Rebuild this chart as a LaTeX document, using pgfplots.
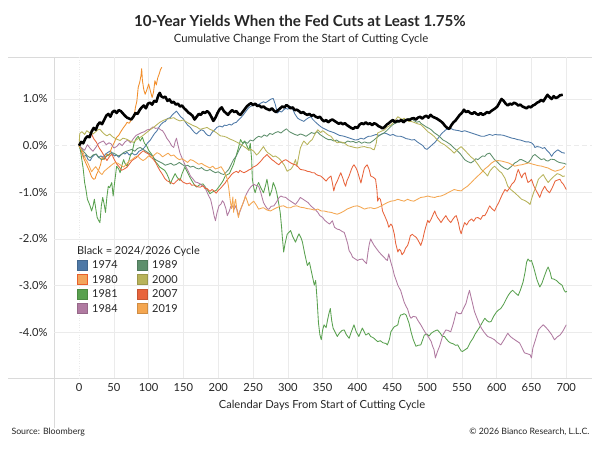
\documentclass[border=0pt]{standalone}
\usepackage{fontspec}
\setmainfont{Lato}
\usepackage{pgfplots}
\usepackage{pgfplotstable}
\pgfplotsset{compat=1.18}
\definecolor{c1974}{HTML}{4E79A7}
\definecolor{c1980}{HTML}{F28E2B}
\definecolor{c1980f}{HTML}{F2A55C}
\definecolor{c1980b}{HTML}{E8602C}
\definecolor{c1981}{HTML}{59A14F}
\definecolor{c1984}{HTML}{B07AA1}
\definecolor{c1989}{HTML}{5E8F6C}
\definecolor{c2000}{HTML}{B8B35A}
\definecolor{c2007}{HTML}{E8643C}
\definecolor{c2019}{HTML}{F4A650}
\definecolor{txt}{HTML}{262626}
\definecolor{frame}{HTML}{DADADA}

\pgfplotstableread{
d v
0 0.00
3 0.08
6 0.05
9 0.15
12 0.20
15 0.18
18 0.30
21 0.38
24 0.34
27 0.45
30 0.50
33 0.46
36 0.55
39 0.64
42 0.68
45 0.62
48 0.72
51 0.75
54 0.70
57 0.76
60 0.74
63 0.69
66 0.64
69 0.60
72 0.58
75 0.56
78 0.62
81 0.70
84 0.68
87 0.76
90 0.82
93 0.86
96 0.80
99 0.90
102 0.92
105 0.88
108 0.96
111 0.94
114 1.08
116 1.13
118 1.06
121 1.03
124 1.05
127 0.96
130 0.99
133 0.92
136 0.94
139 0.88
142 0.90
145 0.84
148 0.86
151 0.80
154 0.76
157 0.71
160 0.68
163 0.64
166 0.56
169 0.62
172 0.68
175 0.66
178 0.72
181 0.70
184 0.74
187 0.70
190 0.62
193 0.53
196 0.60
199 0.70
202 0.78
205 0.82
208 0.74
211 0.70
214 0.66
217 0.72
220 0.76
223 0.72
226 0.74
229 0.68
232 0.66
235 0.72
238 0.78
241 0.84
244 0.88
247 0.91
250 0.87
253 0.90
256 0.85
259 0.86
262 0.82
265 0.84
268 0.80
271 0.78
274 0.76
277 0.80
280 0.75
283 0.72
286 0.76
289 0.80
292 0.84
295 0.82
298 0.87
301 0.84
304 0.80
307 0.82
310 0.76
313 0.77
316 0.74
319 0.70
322 0.72
325 0.68
328 0.66
331 0.68
334 0.64
337 0.66
340 0.62
343 0.60
346 0.62
349 0.56
352 0.52
355 0.55
358 0.50
361 0.54
364 0.56
367 0.53
370 0.50
373 0.47
376 0.49
379 0.46
382 0.48
385 0.44
388 0.41
391 0.38
394 0.36
397 0.40
400 0.38
403 0.45
406 0.48
409 0.46
412 0.50
415 0.46
418 0.48
421 0.44
424 0.48
427 0.46
430 0.42
433 0.40
436 0.37
439 0.40
442 0.45
445 0.48
448 0.52
451 0.55
454 0.50
457 0.53
460 0.52
463 0.55
466 0.50
469 0.54
472 0.56
475 0.55
478 0.58
481 0.59
484 0.56
487 0.60
490 0.62
493 0.58
496 0.62
499 0.64
502 0.60
505 0.66
508 0.62
511 0.60
514 0.58
517 0.55
520 0.52
523 0.48
526 0.42
529 0.38
532 0.36
535 0.44
538 0.50
541 0.54
544 0.60
547 0.66
550 0.70
553 0.77
556 0.72
559 0.74
562 0.70
565 0.68
568 0.72
571 0.68
574 0.66
577 0.70
580 0.66
583 0.68
586 0.72
589 0.70
592 0.74
595 0.77
598 0.80
601 0.84
604 0.92
607 1.00
610 0.96
613 0.90
616 0.86
619 0.90
622 0.88
625 0.92
628 0.90
631 0.86
634 0.88
637 0.84
640 0.82
643 0.80
646 0.84
649 0.82
652 0.86
655 0.88
658 0.92
661 0.94
664 0.98
667 0.95
670 1.02
673 1.09
676 1.04
679 1.00
682 1.06
685 1.02
688 1.04
691 1.08
695 1.09
}\tblack

\pgfplotstableread{
d v
0 0.00
4 -0.15
7 -0.25
10 -0.20
13 -0.30
16 -0.32
19 -0.24
22 -0.20
25 -0.18
28 -0.26
31 -0.22
35 -0.25
38 -0.18
42 -0.14
45 -0.11
48 -0.18
51 -0.22
54 -0.20
57 -0.25
60 -0.20
63 -0.16
66 -0.18
69 -0.14
72 -0.20
76 -0.16
80 -0.20
83 -0.18
86 -0.12
89 -0.10
92 -0.07
95 -0.02
98 0.05
102 0.11
105 0.18
108 0.25
112 0.32
115 0.40
118 0.46
121 0.50
124 0.52
127 0.58
131 0.60
134 0.66
137 0.70
140 0.74
143 0.68
146 0.62
150 0.57
153 0.50
156 0.44
160 0.39
163 0.33
166 0.28
169 0.25
172 0.30
176 0.34
179 0.32
182 0.26
185 0.22
188 0.21
191 0.28
195 0.34
198 0.39
202 0.42
206 0.40
209 0.44
212 0.43
216 0.46
219 0.44
222 0.48
226 0.50
229 0.55
232 0.59
236 0.66
240 0.74
243 0.80
246 0.84
250 0.86
254 0.90
258 0.88
261 0.91
265 0.94
268 0.92
272 0.96
276 1.00
279 1.01
282 0.88
285 0.70
288 0.74
291 0.72
294 0.77
297 0.80
300 0.78
304 0.84
307 0.78
310 0.68
314 0.59
317 0.56
320 0.54
323 0.52
326 0.56
330 0.60
333 0.62
336 0.56
340 0.50
343 0.46
347 0.41
350 0.38
354 0.35
358 0.32
362 0.30
366 0.28
370 0.25
374 0.22
378 0.21
381 0.20
385 0.18
389 0.16
393 0.14
397 0.12
401 0.13
405 0.16
409 0.14
413 0.18
416 0.20
419 0.20
423 0.22
427 0.24
431 0.22
435 0.25
439 0.27
443 0.25
447 0.22
451 0.24
455 0.21
458 0.20
462 0.20
466 0.18
470 0.15
474 0.14
478 0.12
482 0.13
486 0.08
490 0.04
494 0.00
497 -0.06
500 -0.08
503 -0.04
506 0.00
509 0.04
512 0.08
515 0.14
518 0.20
521 0.26
524 0.30
527 0.34
531 0.36
534 0.37
538 0.34
542 0.33
546 0.32
550 0.30
554 0.32
558 0.30
562 0.28
566 0.26
570 0.24
574 0.22
578 0.20
582 0.20
586 0.22
590 0.24
594 0.22
598 0.24
602 0.23
606 0.23
610 0.22
614 0.20
618 0.18
622 0.16
626 0.15
630 0.13
634 0.12
638 0.10
642 0.08
646 0.08
650 0.06
653 0.02
655 -0.04
658 -0.02
662 -0.03
666 -0.06
669 -0.04
672 -0.10
676 -0.16
679 -0.23
682 -0.16
685 -0.12
688 -0.09
691 -0.12
694 -0.15
698 -0.16
}\tsevenfour

\pgfplotstableread{
d v
0 0.00
3 -0.10
6 -0.25
9 -0.35
12 -0.45
15 -0.55
18 -0.67
21 -0.72
23 -0.71
25 -0.62
28 -0.53
31 -0.40
33 -0.25
36 -0.30
40 -0.18
43 -0.22
47 -0.04
50 0.05
54 0.18
57 0.22
60 0.30
64 0.39
67 0.45
69 0.50
72 0.48
76 0.57
79 0.62
81 0.82
83 0.95
85 1.25
87 1.35
89 1.50
90 1.65
91 1.40
93 1.20
95 1.10
97 1.18
100 1.32
102 1.20
105 1.03
107 1.15
109 1.39
111 1.30
113 1.45
115 1.53
117 1.63
119 1.68
}\teighty

\pgfplotstableread{
d v
0 0.00
2 -0.10
4 -0.30
6 -0.50
8 -0.79
10 -0.95
12 -1.15
14 -1.22
16 -1.30
18 -1.40
20 -1.30
22 -1.15
24 -1.35
26 -1.54
28 -1.60
30 -1.65
32 -1.29
34 -1.11
36 -1.25
38 -1.43
40 -1.10
42 -0.87
44 -0.90
47 -0.79
49 -1.08
51 -0.80
54 -0.44
57 -0.50
59 -0.58
62 -0.40
64 -0.30
66 -0.38
69 -0.44
72 -0.30
74 -0.20
76 -0.16
79 0.05
82 0.15
85 0.20
88 0.10
91 0.18
94 0.05
97 0.00
100 -0.10
104 -0.18
107 -0.25
110 -0.35
113 -0.40
116 -0.46
120 -0.50
123 -0.53
126 -0.60
129 -0.70
131 -0.82
134 -0.72
138 -0.60
141 -0.68
145 -0.75
148 -0.60
152 -0.46
155 -0.55
159 -0.67
162 -0.75
166 -0.85
169 -0.89
173 -0.84
178 -0.82
182 -0.90
186 -0.98
188 -1.03
192 -0.99
197 -0.96
201 -0.88
204 -0.82
207 -0.75
210 -0.65
213 -0.62
216 -0.60
219 -0.50
222 -0.40
226 -0.20
229 -0.05
232 0.13
235 0.05
238 0.10
241 0.00
244 -0.10
246 0.05
248 -0.30
249 -0.72
251 -0.90
253 -1.01
256 -0.85
258 -0.79
261 -0.90
265 -1.01
268 -0.85
270 -0.72
272 -0.90
274 -1.08
277 -0.95
279 -0.79
282 -0.90
284 -1.01
287 -1.25
289 -1.43
291 -1.75
292 -1.95
294 -2.28
296 -2.10
299 -1.90
302 -1.85
304 -1.82
307 -1.95
311 -2.07
314 -1.95
316 -1.89
319 -1.98
321 -2.07
324 -2.30
328 -2.57
331 -2.50
333 -2.64
336 -2.85
338 -2.99
340 -2.89
342 -3.30
344 -3.80
346 -4.05
348 -4.16
350 -3.95
352 -3.84
355 -3.90
357 -3.74
359 -3.60
361 -3.49
363 -3.75
365 -3.91
368 -4.00
371 -4.09
374 -4.02
378 -3.96
381 -3.95
384 -4.05
388 -4.13
391 -4.00
395 -3.84
398 -3.98
402 -4.09
405 -3.98
407 -3.91
410 -4.00
412 -4.06
416 -4.02
419 -4.09
423 -4.12
426 -4.16
429 -4.20
433 -4.18
436 -4.22
438 -4.23
441 -4.24
443 -4.27
446 -4.15
448 -3.99
451 -3.92
453 -3.88
456 -3.86
458 -3.84
460 -3.70
462 -3.63
465 -3.62
467 -3.60
470 -3.63
474 -3.80
477 -3.99
480 -4.15
484 -4.30
487 -4.28
491 -4.27
494 -4.15
496 -4.06
500 -4.04
503 -4.08
506 -4.02
510 -3.98
513 -3.96
515 -3.95
519 -4.02
522 -4.09
525 -4.09
528 -4.15
531 -4.20
534 -4.23
538 -4.25
541 -4.28
544 -4.27
547 -4.35
549 -4.40
551 -4.41
554 -4.38
558 -4.34
562 -4.22
566 -4.13
569 -4.04
573 -3.95
576 -3.88
579 -3.80
583 -3.70
586 -3.75
589 -3.78
592 -3.77
596 -3.65
600 -3.56
603 -3.52
606 -3.49
610 -3.40
614 -3.28
617 -3.20
620 -3.14
623 -3.10
627 -3.16
631 -3.21
634 -3.10
638 -2.92
641 -2.70
643 -2.50
645 -2.43
648 -2.48
650 -2.46
653 -2.60
655 -2.71
658 -2.88
662 -3.03
665 -2.95
669 -2.78
672 -2.66
674 -2.60
677 -2.72
679 -2.85
682 -2.86
686 -2.89
690 -2.95
694 -2.99
697 -3.10
699 -3.14
701 -3.12
}\teightyone

\pgfplotstableread{
d v
0 0.00
4 -0.05
8 -0.10
12 0.02
16 -0.06
20 -0.12
24 -0.04
28 0.05
32 0.08
35 0.10
39 0.02
43 0.06
46 0.04
50 -0.05
54 -0.02
58 0.05
62 0.00
66 0.08
70 0.12
74 0.06
78 0.15
82 0.22
86 0.25
90 0.28
94 0.30
98 0.34
102 0.35
106 0.40
110 0.37
114 0.38
117 0.34
120 0.32
123 0.25
126 0.16
130 0.08
133 0.00
136 -0.04
138 0.08
140 0.16
142 0.02
145 -0.16
149 -0.30
153 -0.44
157 -0.55
160 -0.65
164 -0.72
167 -0.78
170 -0.79
174 -0.82
177 -0.86
180 -0.87
184 -1.00
187 -1.10
189 -1.15
192 -1.35
194 -1.50
196 -1.61
198 -1.45
201 -1.29
204 -1.25
206 -1.18
208 -1.22
211 -1.35
213 -1.50
216 -1.40
218 -1.30
220 -1.29
223 -1.36
225 -1.29
228 -1.42
229 -1.50
232 -1.38
236 -1.22
240 -1.05
244 -0.94
247 -0.88
251 -0.83
254 -0.85
258 -0.87
261 -1.00
265 -1.22
268 -1.30
271 -1.36
273 -1.36
276 -1.30
280 -1.29
284 -1.20
287 -1.12
290 -1.08
293 -1.10
297 -1.11
300 -1.15
304 -1.19
307 -1.22
311 -1.26
314 -1.20
318 -1.11
322 -1.15
326 -1.19
329 -1.22
333 -1.29
336 -1.33
340 -1.38
343 -1.43
346 -1.50
350 -1.54
353 -1.60
357 -1.65
360 -1.68
364 -1.61
367 -1.75
371 -1.79
374 -1.80
378 -1.84
381 -1.86
383 -1.95
386 -2.10
388 -2.25
391 -2.32
393 -2.39
396 -2.42
400 -2.46
403 -2.44
407 -2.43
410 -2.48
413 -2.53
415 -2.30
417 -2.11
419 -2.00
421 -2.06
424 -2.14
427 -2.20
431 -2.28
434 -2.33
438 -2.39
441 -2.44
443 -2.46
445 -2.32
448 -2.50
451 -2.65
453 -2.78
456 -2.90
458 -2.99
460 -3.05
462 -3.10
465 -3.25
467 -3.35
470 -3.45
472 -3.50
475 -3.65
477 -3.70
480 -3.66
484 -3.67
487 -3.75
491 -3.84
494 -3.92
498 -4.02
502 -4.10
506 -4.20
508 -4.30
510 -4.37
512 -4.55
515 -4.41
518 -4.30
520 -4.20
523 -4.05
527 -3.95
530 -3.96
534 -3.99
538 -3.80
542 -3.56
545 -3.60
549 -3.60
552 -3.50
556 -3.38
559 -3.20
561 -3.10
564 -3.30
566 -3.42
568 -3.55
570 -3.63
574 -3.78
578 -3.91
582 -4.00
587 -4.09
592 -4.12
597 -4.16
601 -4.22
606 -4.27
611 -4.15
616 -4.02
619 -4.08
623 -4.13
628 -4.18
633 -4.23
637 -4.35
640 -4.44
644 -4.46
648 -4.48
650 -4.55
652 -4.34
656 -4.15
660 -3.95
664 -3.88
667 -3.84
671 -3.90
674 -3.95
679 -4.05
683 -4.16
687 -4.10
691 -4.06
695 -3.98
700 -3.84
}\teightyfour

\pgfplotstableread{
d v
0 0.00
4 -0.08
8 -0.15
12 -0.22
16 -0.26
20 -0.20
24 -0.18
28 -0.24
32 -0.30
36 -0.28
40 -0.22
44 -0.18
48 -0.15
52 -0.18
56 -0.22
60 -0.20
64 -0.15
68 -0.12
72 -0.10
76 -0.08
80 -0.12
84 -0.06
88 -0.04
92 -0.08
96 -0.12
100 -0.16
104 -0.20
108 -0.28
112 -0.32
116 -0.35
120 -0.38
124 -0.42
128 -0.40
132 -0.38
136 -0.42
140 -0.40
144 -0.36
148 -0.40
152 -0.44
156 -0.42
160 -0.46
164 -0.44
168 -0.48
172 -0.50
176 -0.47
180 -0.52
184 -0.54
188 -0.51
192 -0.55
196 -0.58
200 -0.56
204 -0.60
208 -0.62
212 -0.56
215 -0.51
218 -0.42
222 -0.30
226 -0.22
230 -0.09
234 0.02
238 0.08
242 0.05
246 0.12
250 0.10
254 0.16
258 0.20
262 0.18
266 0.23
270 0.20
274 0.26
278 0.24
282 0.28
286 0.30
290 0.27
294 0.32
298 0.36
302 0.30
306 0.27
310 0.24
314 0.22
318 0.25
322 0.23
326 0.20
330 0.24
334 0.28
338 0.26
342 0.30
346 0.24
350 0.20
354 0.16
358 0.13
362 0.13
366 0.10
370 0.12
374 0.08
378 0.06
382 0.06
386 0.10
390 0.08
394 0.09
398 0.06
402 0.09
406 0.05
410 0.08
414 0.06
418 0.06
422 0.10
426 0.15
430 0.20
434 0.24
438 0.27
442 0.32
446 0.38
450 0.44
454 0.48
458 0.50
462 0.52
466 0.56
470 0.55
474 0.58
477 0.59
481 0.54
485 0.50
489 0.52
491 0.48
495 0.44
499 0.40
503 0.37
506 0.34
510 0.28
515 0.23
519 0.18
523 0.12
527 0.09
530 0.06
534 0.02
538 -0.04
541 -0.08
544 -0.12
548 -0.18
551 -0.24
554 -0.30
558 -0.34
563 -0.37
567 -0.33
570 -0.28
573 -0.30
577 -0.25
580 -0.22
583 -0.23
586 -0.18
590 -0.16
593 -0.22
597 -0.30
601 -0.35
604 -0.40
607 -0.44
611 -0.48
616 -0.51
620 -0.46
623 -0.42
626 -0.37
630 -0.34
633 -0.30
636 -0.30
640 -0.33
645 -0.37
649 -0.30
652 -0.22
655 -0.19
659 -0.24
664 -0.30
668 -0.28
671 -0.32
674 -0.33
678 -0.29
683 -0.30
687 -0.34
690 -0.36
693 -0.37
697 -0.38
700 -0.40
}\teightynine

\pgfplotstableread{
d v
0 0.00
1 0.26
4 0.30
8 0.24
11 0.32
15 0.28
20 0.25
24 0.30
27 0.34
30 0.35
34 0.28
37 0.24
40 0.21
44 0.25
49 0.18
54 0.14
59 0.11
63 0.16
68 0.14
73 0.10
78 0.07
82 0.12
88 0.18
92 0.22
97 0.28
102 0.34
107 0.39
111 0.44
116 0.50
121 0.54
126 0.57
131 0.58
136 0.60
140 0.56
145 0.53
150 0.55
155 0.50
160 0.46
164 0.43
169 0.40
174 0.35
179 0.37
184 0.39
188 0.35
193 0.32
198 0.27
203 0.21
208 0.20
212 0.18
217 0.14
222 0.11
226 0.08
231 0.04
235 0.00
240 -0.05
244 -0.10
247 -0.08
251 -0.12
255 -0.20
258 -0.16
261 -0.10
265 -0.02
268 -0.10
271 -0.15
275 -0.19
279 -0.24
282 -0.22
286 -0.26
289 -0.30
292 -0.36
295 -0.42
299 -0.55
302 -0.52
304 -0.51
307 -0.45
311 -0.30
313 -0.44
316 -0.20
318 -0.05
321 0.05
323 0.10
326 0.05
328 0.02
331 0.08
335 0.13
338 0.22
341 0.30
343 0.34
347 0.28
350 0.32
352 0.30
356 0.25
359 0.22
362 0.20
366 0.12
371 0.06
376 0.08
381 0.06
386 0.00
391 -0.02
396 -0.04
400 -0.05
405 -0.03
410 -0.02
414 -0.04
419 -0.05
422 -0.08
424 -0.09
427 0.05
429 0.27
433 0.30
436 0.32
439 0.34
443 0.40
448 0.44
452 0.50
455 0.56
458 0.62
462 0.58
465 0.56
467 0.59
470 0.55
474 0.52
477 0.52
481 0.50
486 0.47
491 0.45
496 0.38
501 0.30
506 0.25
510 0.20
515 0.12
520 0.06
525 0.02
530 -0.04
535 -0.10
539 -0.16
544 -0.08
549 -0.02
553 -0.08
558 -0.16
563 -0.24
568 -0.30
573 -0.40
578 -0.51
583 -0.58
587 -0.65
590 -0.55
594 -0.48
597 -0.44
601 -0.50
604 -0.55
607 -0.58
612 -0.70
616 -0.87
621 -0.95
626 -1.01
631 -1.08
636 -1.15
641 -1.18
645 -1.22
648 -1.26
650 -1.15
653 -1.01
656 -0.90
660 -0.72
664 -0.66
667 -0.62
670 -0.70
674 -0.79
678 -0.72
683 -0.65
687 -0.60
691 -0.62
695 -0.66
698 -0.65
}\ttwothousand

\pgfplotstableread{
d v
0 0.00
4 0.06
8 0.12
11 0.18
15 0.22
18 0.25
21 0.15
25 0.07
29 -0.05
33 -0.14
36 -0.22
40 -0.32
43 -0.25
47 -0.18
50 -0.28
54 -0.39
58 -0.46
61 -0.53
65 -0.50
69 -0.46
72 -0.40
76 -0.32
80 -0.28
83 -0.25
87 -0.18
90 -0.14
92 -0.11
96 -0.15
100 -0.18
104 -0.25
107 -0.30
110 -0.36
113 -0.45
116 -0.53
120 -0.62
123 -0.70
126 -0.75
130 -0.78
133 -0.80
136 -0.82
140 -0.76
143 -0.72
145 -0.71
149 -0.78
152 -0.80
155 -0.82
159 -0.80
162 -0.85
166 -0.84
170 -0.88
174 -0.89
178 -0.86
181 -0.92
184 -0.92
188 -0.98
191 -0.94
193 -0.96
197 -1.02
200 -0.96
203 -0.92
207 -0.85
210 -0.80
212 -0.75
216 -0.68
219 -0.62
222 -0.58
226 -0.55
229 -0.58
231 -0.53
234 -0.56
237 -0.58
241 -0.55
244 -0.52
246 -0.51
250 -0.46
253 -0.44
256 -0.41
260 -0.35
263 -0.30
265 -0.26
268 -0.22
270 -0.19
273 -0.24
277 -0.30
280 -0.33
284 -0.38
287 -0.41
290 -0.36
294 -0.32
297 -0.30
301 -0.34
304 -0.37
308 -0.40
311 -0.41
315 -0.46
318 -0.51
322 -0.52
325 -0.53
328 -0.55
332 -0.56
335 -0.58
338 -0.58
341 -0.62
344 -0.64
347 -0.65
351 -0.70
355 -0.76
358 -0.70
362 -0.65
364 -0.80
366 -0.97
368 -0.85
371 -0.76
374 -0.65
376 -0.58
379 -0.70
381 -0.80
383 -0.87
385 -0.75
388 -0.65
391 -0.52
393 -0.45
395 -0.41
398 -0.48
400 -0.55
403 -0.70
405 -0.80
408 -0.60
410 -0.48
412 -0.44
414 -0.41
417 -0.52
419 -0.65
423 -0.68
426 -0.72
428 -0.95
429 -1.19
431 -1.12
433 -1.15
435 -1.30
436 -1.40
439 -1.50
441 -1.57
443 -1.64
445 -1.75
448 -1.68
450 -1.72
453 -1.90
455 -2.10
458 -2.28
460 -2.22
462 -2.25
464 -2.34
467 -2.28
469 -2.20
472 -2.14
474 -2.05
476 -1.93
479 -1.90
481 -1.93
484 -1.96
486 -2.00
489 -2.08
491 -2.14
494 -2.00
496 -1.86
498 -1.75
501 -1.60
503 -1.65
506 -1.57
508 -1.50
511 -1.40
513 -1.48
515 -1.54
518 -1.60
520 -1.65
523 -1.58
527 -1.50
530 -1.58
534 -1.65
537 -1.58
540 -1.52
542 -1.50
545 -1.65
547 -1.80
549 -1.89
551 -1.78
554 -1.65
557 -1.70
560 -1.62
564 -1.57
567 -1.62
570 -1.55
573 -1.54
577 -1.58
580 -1.50
583 -1.50
586 -1.42
588 -1.35
590 -1.29
593 -1.35
597 -1.40
600 -1.30
603 -1.22
605 -1.15
608 -1.05
612 -0.94
615 -0.98
619 -0.90
622 -0.82
625 -0.78
627 -0.72
629 -0.60
631 -0.51
634 -0.62
636 -0.69
638 -0.62
641 -0.58
643 -0.70
645 -0.79
648 -0.76
650 -0.72
653 -0.85
657 -0.97
660 -1.05
662 -1.11
665 -0.98
669 -0.87
672 -0.95
676 -1.01
680 -0.90
684 -0.76
687 -0.74
691 -0.72
693 -0.78
696 -0.83
700 -0.94
}\ttwoseven

\pgfplotstableread{
d v
0 0.00
3 -0.08
6 -0.15
9 -0.28
12 -0.35
15 -0.45
18 -0.56
21 -0.50
24 -0.45
27 -0.52
30 -0.58
33 -0.62
36 -0.55
40 -0.50
44 -0.45
48 -0.40
52 -0.36
56 -0.38
60 -0.42
64 -0.46
68 -0.40
72 -0.33
76 -0.30
80 -0.25
84 -0.22
88 -0.28
92 -0.32
96 -0.28
100 -0.22
104 -0.26
108 -0.20
112 -0.15
116 -0.18
120 -0.24
124 -0.20
128 -0.16
132 -0.22
136 -0.20
140 -0.26
144 -0.30
148 -0.28
152 -0.32
156 -0.36
160 -0.30
164 -0.32
168 -0.36
172 -0.40
176 -0.38
180 -0.42
184 -0.45
188 -0.48
192 -0.44
196 -0.50
200 -0.48
204 -0.45
207 -0.52
210 -0.60
213 -0.72
215 -0.90
217 -1.15
219 -1.35
221 -1.10
222 -1.43
224 -1.20
225 -1.15
227 -1.40
229 -1.54
231 -1.40
234 -1.29
237 -1.18
239 -1.08
242 -1.20
244 -1.29
247 -1.24
251 -1.19
255 -1.28
258 -1.36
262 -1.34
265 -1.33
270 -1.38
275 -1.40
280 -1.36
284 -1.33
289 -1.30
294 -1.29
299 -1.33
304 -1.33
308 -1.30
313 -1.29
318 -1.32
323 -1.33
328 -1.35
333 -1.36
338 -1.38
343 -1.36
348 -1.40
352 -1.40
357 -1.42
362 -1.43
366 -1.45
371 -1.47
376 -1.44
381 -1.40
385 -1.36
390 -1.33
395 -1.30
400 -1.29
405 -1.32
410 -1.36
414 -1.34
419 -1.33
424 -1.35
429 -1.33
433 -1.30
438 -1.26
443 -1.22
448 -1.19
453 -1.18
458 -1.15
462 -1.17
467 -1.19
472 -1.15
477 -1.18
481 -1.19
486 -1.15
491 -1.11
496 -1.10
501 -1.08
506 -1.10
511 -1.11
515 -1.09
520 -1.08
525 -1.05
530 -1.01
535 -0.97
539 -0.94
544 -0.96
549 -0.97
553 -0.92
558 -0.87
563 -0.80
568 -0.72
573 -0.65
578 -0.58
583 -0.50
588 -0.44
592 -0.38
597 -0.33
602 -0.32
607 -0.33
612 -0.35
617 -0.37
621 -0.40
626 -0.44
631 -0.42
636 -0.41
641 -0.39
646 -0.37
650 -0.39
655 -0.41
660 -0.43
665 -0.44
669 -0.46
674 -0.48
679 -0.52
684 -0.55
688 -0.53
693 -0.51
698 -0.44
}\ttwonineteen

\begin{document}
\begin{tikzpicture}
\path[use as bounding box] (0,0) rectangle (600bp,450bp);
\fill[white] (0,0) rectangle (600bp,450bp);
\draw[frame, line width=0.8bp] (8bp,393bp) -- (592bp,393bp);
\draw[frame, line width=0.8bp] (8bp,72bp) -- (592bp,72bp);
\draw[frame, line width=0.8bp] (54bp,393bp) -- (54bp,22bp);

\begin{axis}[
  at={(54bp,72bp)}, anchor=south west,
  scale only axis, width=538bp, height=321bp,
  xmin=-36, xmax=737, ymin=-4.98, ymax=1.9,
  axis line style={draw=none},
  major tick length=0pt,
  /pgf/number format/assume math mode=true,
  xtick={50,100,...,700},
  extra x ticks={0},
  extra x tick style={grid style={draw=black!30, dotted, line width=0.8bp}},
  ytick={-4,-3,-2,-1,1},
  extra y ticks={0},
  extra y tick style={grid style={draw=black!40, dash pattern=on 5bp off 3bp, line width=1.3bp}},
  grid=major,
  major grid style={draw=black!8, line width=0.6bp},
  yticklabel={\pgfmathprintnumber[fixed,fixed zerofill,precision=1]{\tick}\%},
  xticklabel={\pgfmathprintnumber[fixed,precision=0]{\tick}},
  ticklabel style={font=\fontsize{11.2}{13}\selectfont, text=txt},
  yticklabel style={xshift=-3bp},
  xticklabel style={yshift=-2bp},
  every axis plot/.append style={line width=0.85bp, line join=round},
]
\addplot[c1974] table[x=d,y=v] {\tsevenfour};
\addplot[c1980] table[x=d,y=v] {\teighty};
\addplot[c1981] table[x=d,y=v] {\teightyone};
\addplot[c1984] table[x=d,y=v] {\teightyfour};
\addplot[c1989] table[x=d,y=v] {\teightynine};
\addplot[c2000] table[x=d,y=v] {\ttwothousand};
\addplot[c2007] table[x=d,y=v] {\ttwoseven};
\addplot[c2019] table[x=d,y=v] {\ttwonineteen};
\addplot[black, line width=2.6bp] table[x=d,y=v] {\tblack};
\end{axis}

\node[font=\bfseries\fontsize{15.2}{18}\selectfont, text=txt] at (300bp,429bp) {10-Year Yields When the Fed Cuts at Least 1.75\%};
\node[font=\fontsize{11.4}{13}\selectfont, text=txt] at (301bp,411bp) {Cumulative Change From the Start of Cutting Cycle};
\node[font=\fontsize{11.2}{13}\selectfont, text=txt] at (322bp,45bp) {Calendar Days From Start of Cutting Cycle};
\node[anchor=west, font=\fontsize{8.8}{10}\selectfont, text=txt] at (8bp,18bp) {Source: Bloomberg};
\node[anchor=east, font=\fontsize{8.8}{10}\selectfont, text=txt] at (593bp,18bp) {© 2026 Bianco Research, L.L.C.};

\begin{scope}[font=\fontsize{11}{13}\selectfont, text=txt]
\node[anchor=west, inner sep=0] at (77bp,199bp) {Black = 2024/2026 Cycle};
\filldraw[fill=c1974, draw=c1974!85!black, line width=0.5bp] (77bp,180bp) rectangle (87bp,190bp);
\node[anchor=west, inner sep=0] at (92bp,185bp) {1974};
\filldraw[fill=c1980f, draw=c1980b, line width=0.8bp] (77bp,165.5bp) rectangle (87bp,175.5bp);
\node[anchor=west, inner sep=0] at (92bp,170.5bp) {1980};
\filldraw[fill=c1981, draw=c1981!85!black, line width=0.5bp] (77bp,151bp) rectangle (87bp,161bp);
\node[anchor=west, inner sep=0] at (92bp,156bp) {1981};
\filldraw[fill=c1984, draw=c1984!85!black, line width=0.5bp] (77bp,136.5bp) rectangle (87bp,146.5bp);
\node[anchor=west, inner sep=0] at (92bp,141.5bp) {1984};
\filldraw[fill=c1989, draw=c1989!85!black, line width=0.5bp] (137bp,180bp) rectangle (147bp,190bp);
\node[anchor=west, inner sep=0] at (152bp,185bp) {1989};
\filldraw[fill=c2000, draw=c2000!85!black, line width=0.5bp] (137bp,165.5bp) rectangle (147bp,175.5bp);
\node[anchor=west, inner sep=0] at (152bp,170.5bp) {2000};
\filldraw[fill=c2007, draw=c2007!85!black, line width=0.5bp] (137bp,151bp) rectangle (147bp,161bp);
\node[anchor=west, inner sep=0] at (152bp,156bp) {2007};
\filldraw[fill=c2019, draw=c2019!85!black, line width=0.5bp] (137bp,136.5bp) rectangle (147bp,146.5bp);
\node[anchor=west, inner sep=0] at (152bp,141.5bp) {2019};
\end{scope}
\end{tikzpicture}
\end{document}
